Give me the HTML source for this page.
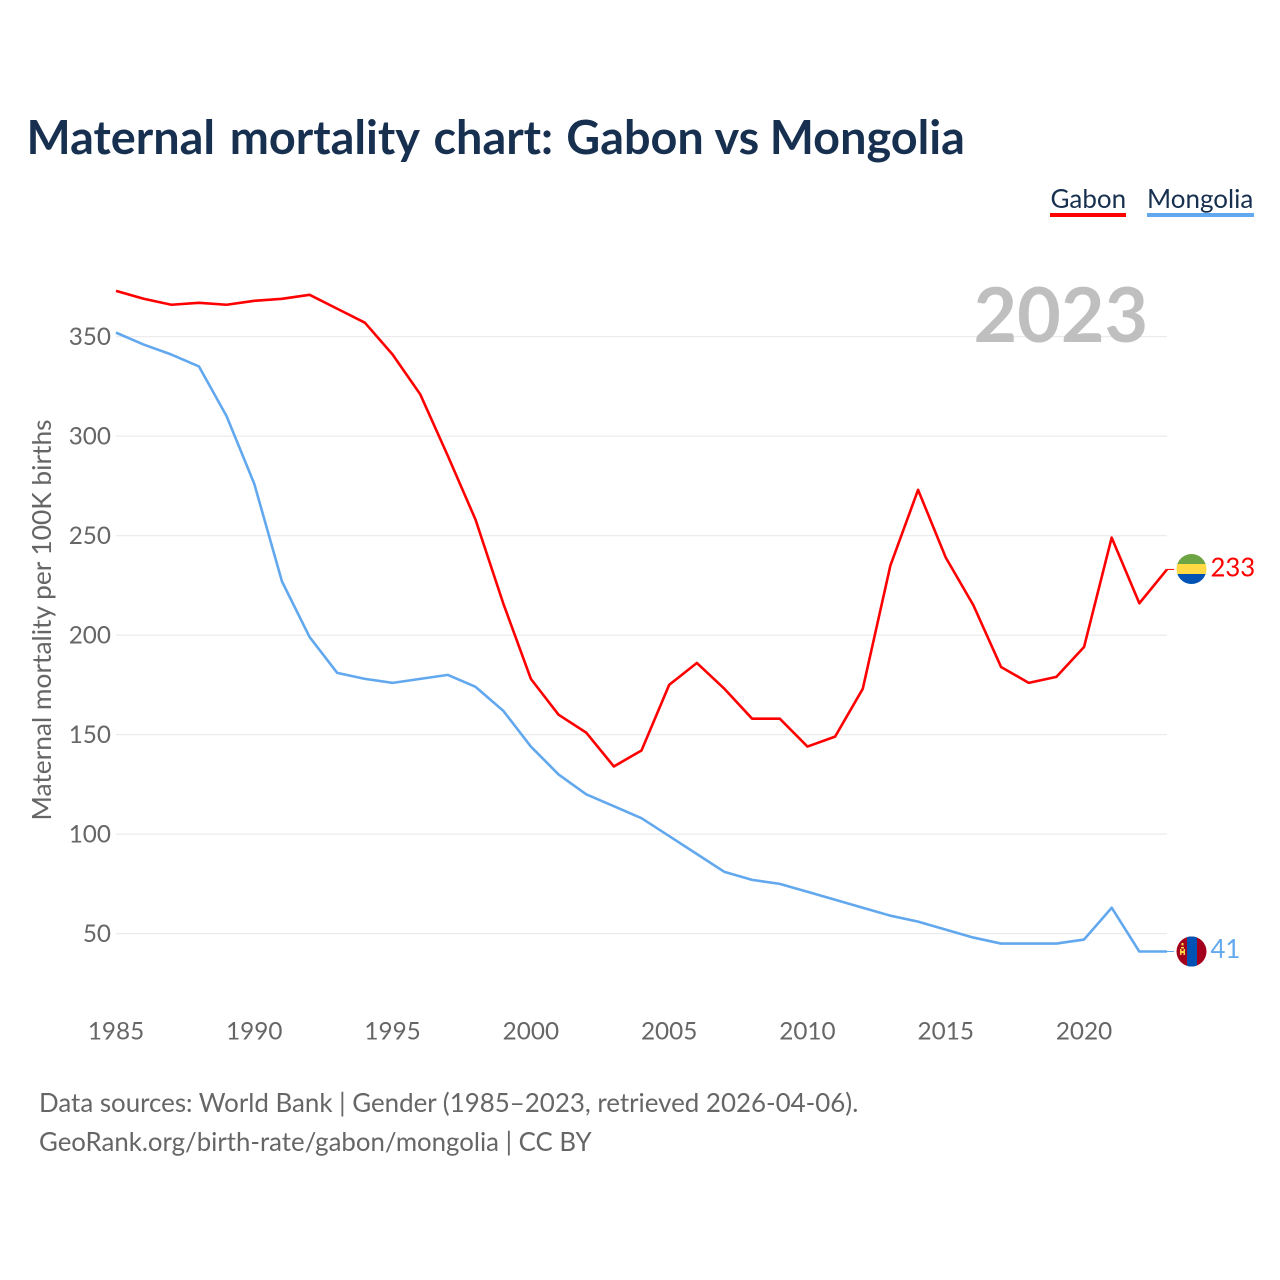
<!DOCTYPE html>
<html lang="en">
<head>
<meta charset="utf-8">
<title>Maternal mortality chart: Gabon vs Mongolia</title>
<style>
html,body{margin:0;padding:0;background:#fff;}
svg{display:block;font-family:"Lato","Carlito","Liberation Sans",sans-serif;}
</style>
</head>
<body>
<svg id="chart" xmlns="http://www.w3.org/2000/svg" width="1280" height="1280" viewBox="0 0 1280 1280">
  <defs>
    <clipPath id="flag-clip-gabon"><circle cx="1191.5" cy="569" r="15"/></clipPath>
    <clipPath id="flag-clip-mongolia"><circle cx="1191.5" cy="951.5" r="15"/></clipPath>
  </defs>
  <rect x="0" y="0" width="1280" height="1280" fill="#ffffff"/>
  <text y="154" font-size="46.8" font-weight="700" fill="#17304f"><tspan x="26.5">Maternal</tspan> <tspan x="229.7">mortality</tspan> <tspan x="433.5">chart:</tspan> <tspan x="566.3">Gabon</tspan> <tspan x="714.5">vs</tspan> <tspan x="769.7">Mongolia</tspan></text>

  <g>
    <text x="1050.5" y="208" font-size="26" fill="#17304f">Gabon</text>
    <rect x="1050" y="213" width="76" height="4" fill="#ff0000"/>
  </g>
  <g>
    <text x="1147" y="208" font-size="26" fill="#17304f">Mongolia</text>
    <rect x="1147" y="213" width="107" height="4" fill="#62a8ef"/>
  </g>

  <g id="grid"></g>
  <text x="973.5" y="342" font-size="75.3" font-weight="700" fill="#bfbfbf">2023</text>
  <g id="y-ticks"></g>
  <g id="x-ticks"></g>
  <text transform="translate(51 620) rotate(-90)" text-anchor="middle" font-size="26.3" fill="#666666">Maternal mortality per 100K births</text>
  <g id="series"></g>

  <g clip-path="url(#flag-clip-gabon)">
    <rect x="1176" y="554" width="31" height="10" fill="#6da544"/>
    <rect x="1176" y="564" width="31" height="10" fill="#ffda44"/>
    <rect x="1176" y="574" width="31" height="10" fill="#0052b4"/>
  </g>
  <g clip-path="url(#flag-clip-mongolia)">
    <rect x="1176" y="936" width="31" height="31" fill="#a2001d"/>
    <rect x="1187" y="936" width="10" height="31" fill="#0052b4"/>
    <rect x="1181.5" y="943" width="2" height="2.5" fill="#ffda44"/>
    <rect x="1181" y="947" width="3" height="1.5" fill="#ffda44"/>
    <rect x="1180" y="949" width="1.5" height="6" fill="#ffda44"/>
    <rect x="1183.5" y="949" width="1.5" height="6" fill="#ffda44"/>
    <rect x="1181.5" y="951" width="2" height="2" fill="#ffda44"/>
  </g>

  <text x="39" y="1112" font-size="25.9" fill="#666666">Data sources: World Bank | Gender (1985–2023, retrieved 2026-04-06).</text>
  <text x="39" y="1151" font-size="25.8" fill="#666666">GeoRank.org/birth-rate/gabon/mongolia | CC BY</text>
</svg>
<script>
var years = [1985,1986,1987,1988,1989,1990,1991,1992,1993,1994,1995,1996,1997,1998,1999,2000,2001,2002,2003,2004,2005,2006,2007,2008,2009,2010,2011,2012,2013,2014,2015,2016,2017,2018,2019,2020,2021,2022,2023];
var gabon = [373,369,366,367,366,368,369,371,364,357,341,321,290,258,216,178,160,151,134,142,175,186,173,158,158,144,149,173,235,273,239,215,184,176,179,194,249,216,233];
var mongolia = [352,346,341,335,310,276,227,199,181,178,176,178,180,174,162,144,130,120,114,108,99,90,81,77,75,71,67,63,59,56,52,48,45,45,45,47,63,41,41];
var yTicks = [50,100,150,200,250,300,350];
var xTicks = [1985,1990,1995,2000,2005,2010,2015,2020];

var NS = 'http://www.w3.org/2000/svg';
function xScale(year) { return 116 + (year - 1985) * (1167 - 116) / (2023 - 1985); }
function yScale(value) { return 336.6 + (350 - value) * (933.6 - 336.6) / 300; }
function make(tag, attrs, parent, text) {
  var el = document.createElementNS(NS, tag);
  for (var k in attrs) { el.setAttribute(k, attrs[k]); }
  if (text !== undefined) { el.textContent = text; }
  parent.appendChild(el);
  return el;
}
var gridG = document.getElementById('grid');
var yG = document.getElementById('y-ticks');
var xG = document.getElementById('x-ticks');
var seriesG = document.getElementById('series');

yTicks.forEach(function (t) {
  var line = make('line', {x1: 116, x2: 1167, y1: yScale(t), y2: yScale(t), stroke: '#ececec', 'stroke-width': 1.3}, gridG);
  
  
  var label = make('text', {x: 111, y: yScale(t) + 8.2, 'text-anchor': 'end', 'font-size': 24.3, fill: '#666666'}, yG, String(t));
  
  
});

xTicks.forEach(function (t) {
  var label = make('text', {x: xScale(t), y: 1039.7, 'text-anchor': 'middle', 'font-size': 24.3, fill: '#666666'}, xG, String(t));
  
  
});

function pathFor(values) {
  return values.map(function (v, i) {
    return (i ? 'L' : 'M') + xScale(years[i]).toFixed(2) + ' ' + yScale(v).toFixed(2);
  }).join(' ');
}

var gabonLine = make('path', {d: pathFor(gabon), fill: 'none', stroke: '#ff0000', 'stroke-width': 2.6, 'stroke-linejoin': 'round'}, seriesG);



var mongoliaLine = make('path', {d: pathFor(mongolia), fill: 'none', stroke: '#62a8ef', 'stroke-width': 2.6, 'stroke-linejoin': 'round'}, seriesG);



var gabonLast = gabon[gabon.length - 1];
var mongoliaLast = mongolia[mongolia.length - 1];

var gabonLeader = make('line', {x1: 1167, x2: 1174, y1: yScale(gabonLast), y2: yScale(gabonLast), stroke: '#ff0000', 'stroke-width': 1}, seriesG);



var mongoliaLeader = make('line', {x1: 1167, x2: 1174, y1: yScale(mongoliaLast), y2: yScale(mongoliaLast), stroke: '#62a8ef', 'stroke-width': 1}, seriesG);



var gabonValue = make('text', {x: 1210.5, y: yScale(gabonLast) + 7, 'font-size': 25.7, fill: '#ff0000'}, seriesG, String(gabonLast));



var mongoliaValue = make('text', {x: 1210.5, y: yScale(mongoliaLast) + 6.6, 'font-size': 25.7, fill: '#62a8ef'}, seriesG, String(mongoliaLast));


</script>
</body>
</html>
